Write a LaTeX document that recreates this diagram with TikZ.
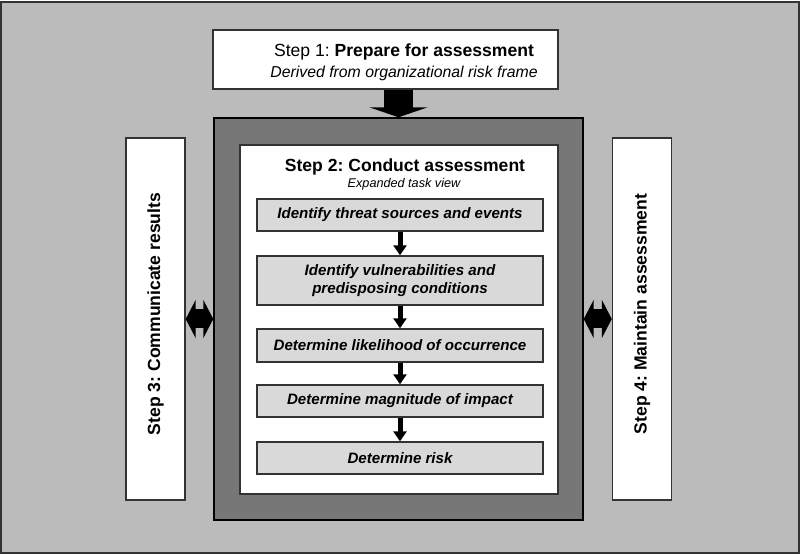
\documentclass[tikz,border=0pt]{standalone}
\usepackage{fontspec}
\setmainfont{Liberation Sans}
\frenchspacing
\usetikzlibrary{arrows.meta}
\definecolor{framegray}{HTML}{BBBBBB}
\definecolor{panelgray}{HTML}{777777}
\definecolor{taskgray}{HTML}{D9D9D9}
\definecolor{edgegray}{HTML}{333333}
\tikzset{
  panel/.style={rectangle,draw=edgegray,line width=0.8pt,inner sep=0pt},
  taskbox/.style={panel,fill=taskgray,minimum width=57.2mm,align=center,
    font=\fontsize{8.6}{10.5}\selectfont\bfseries\itshape},
  sidebox/.style={panel,fill=white,minimum width=11.8mm,minimum height=72.4mm},
  sidetext/.style={rotate=90,font=\fontsize{10}{12}\selectfont\bfseries},
  taskarrow/.style={-{Triangle[width=2.6mm,length=2mm]},line width=1mm},
  bigarrow/.style={-{Triangle[width=11.6mm,length=2mm]},line width=5.8mm},
  sidearrow/.style={{Triangle[width=7.6mm,length=2mm]}-{Triangle[width=7.6mm,length=2mm]},line width=3.8mm}
}

\begin{document}
\begin{tikzpicture}[x=0.2mm,y=-0.2mm]
\useasboundingbox (0,0) rectangle (800,555);

% Background frame
\node[panel,fill=framegray,minimum width=159.6mm,minimum height=110.2mm] (frame) at (400,277.5) {};

% Step 1 on top
\node[panel,fill=white,minimum width=69mm,minimum height=11.8mm] (s1) at (385.5,59.5) {};
\node[font=\fontsize{10}{12}\selectfont] (s1title) at (404,52) {Step 1: \textbf{Prepare for assessment}};
\node[font=\fontsize{9}{11}\selectfont\itshape] (s1sub) at (404,73) {Derived from organizational risk frame};

% Step 2, dark panel with white inner panel
\node[panel,draw=black,fill=panelgray,minimum width=73.8mm,minimum height=80.4mm] (s2) at (398.5,319) {};
\node[panel,fill=white,minimum width=63.6mm,minimum height=69.8mm] (s2in) at (399,319.5) {};
\node[font=\fontsize{10}{12}\selectfont\bfseries] (s2title) at (405,167) {Step 2: Conduct assessment};
\node[font=\fontsize{7.2}{9}\selectfont\itshape] (s2sub) at (404,184) {Expanded task view};

% Tasks
\node[taskbox,minimum height=6.4mm] (t1) at (400,215) {Identify threat sources and events};
\node[taskbox,minimum height=9.8mm] (t2) at (400,280.5) {Identify vulnerabilities and\\predisposing conditions};
\node[taskbox,minimum height=6.6mm] (t3) at (400,345.5) {Determine likelihood of occurrence};
\node[taskbox,minimum height=6.4mm] (t4) at (400,401) {Determine magnitude of impact};
\node[taskbox,minimum height=6.4mm] (t5) at (400,458) {Determine risk};

% Steps 3 and 4 at the sides
\node[sidebox] (s3) at (155.5,319) {};
\node[sidetext] (s3text) at (155.5,314) {Step 3: Communicate results};
\node[sidebox] (s4) at (642,319) {};
\node[sidetext] (s4text) at (642,314) {Step 4: Maintain assessment};

% Arrows
\draw[bigarrow] (s1.south -| s2.north) -- (s2.north);
\draw[taskarrow] (t1) -- (t2);
\draw[taskarrow] (t2) -- (t3);
\draw[taskarrow] (t3) -- (t4);
\draw[taskarrow] (t4) -- (t5);
\draw[sidearrow] (s3.east) -- (s2.west);
\draw[sidearrow] (s2.east) -- (s4.west);

\end{tikzpicture}
\end{document}
